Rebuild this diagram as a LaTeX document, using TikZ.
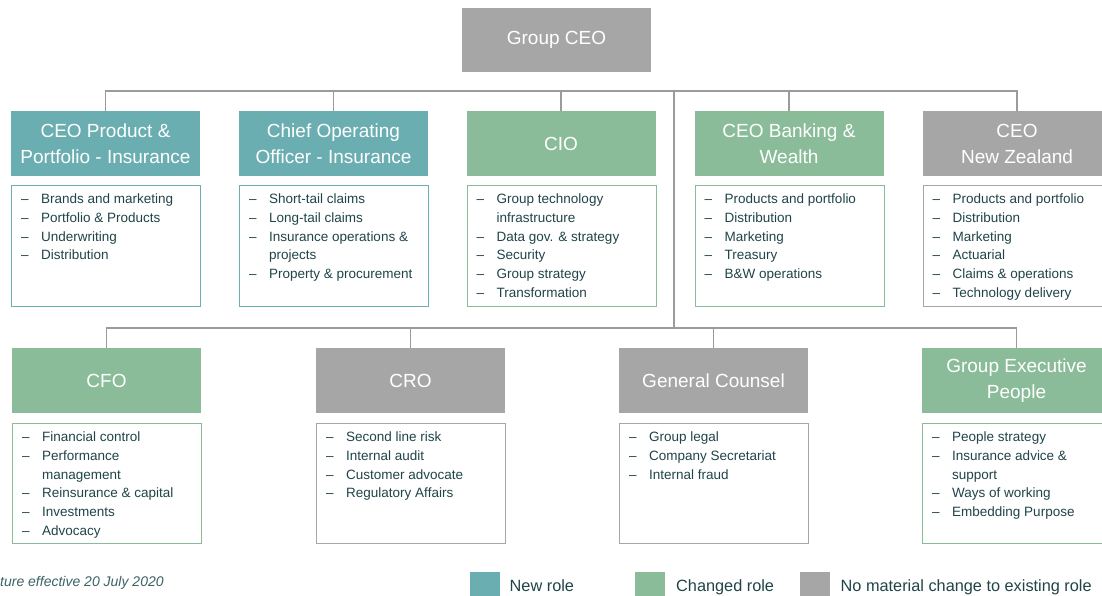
\documentclass[tikz,border=0pt]{standalone}
\usepackage{fontspec}
\setmainfont{Liberation Sans}

\definecolor{newrole}{RGB}{106,174,178}
\definecolor{changedrole}{RGB}{138,188,153}
\definecolor{samerole}{RGB}{166,166,166}
\definecolor{linkgray}{RGB}{155,155,155}
\definecolor{bodytext}{RGB}{32,68,72}
\definecolor{notetext}{RGB}{60,98,102}

% one bulleted responsibility, and a continuation line with hanging indent
\newcommand{\roleitem}[1]{\strut\makebox[20pt][l]{–}#1}
\newcommand{\rolecont}[1]{\strut\hspace*{20pt}#1}

\tikzset{
  hdr/.style={rectangle, minimum width=189pt, minimum height=65pt, inner sep=0pt,
              text=white, align=center, font=\fontsize{19}{26}\selectfont},
  hdrnew/.style={hdr, fill=newrole},
  hdrchg/.style={hdr, fill=changedrole},
  hdrsame/.style={hdr, fill=samerole},
  detbox/.style={rectangle, draw, line width=0.9pt, fill=white, anchor=north west,
                 minimum width=189pt, inner sep=0pt},
  dettop/.style={detbox, minimum height=121pt},
  detbot/.style={detbox, minimum height=120pt},
  duties/.style={anchor=north west, inner sep=0pt, align=left, text=bodytext,
                 font=\fontsize{13.5}{18.7}\selectfont},
  link/.style={draw=linkgray, line width=1.3pt},
  keybox/.style={rectangle, minimum width=30pt, minimum height=30pt, inner sep=0pt},
  keytext/.style={anchor=base west, inner sep=0pt, text=bodytext,
                  font=\fontsize{16.3}{19}\selectfont},
}

\begin{document}
\begin{tikzpicture}[x=1pt,y=-1pt]
\clip (0,0) rectangle (1102,596);
\fill[white] (0,0) rectangle (1102,596);

% ---- top of the structure ----
\node[hdrsame, minimum height=64pt] (ceo) at (556.5,40) {Group CEO};

% ---- first row of direct reports ----
\node[hdrnew]  (prod) at (105.5,143.5) {CEO Product \&\\Portfolio - Insurance};
\node[hdrnew]  (coo)  at (333.5,143.5) {Chief Operating\\Officer - Insurance};
\node[hdrchg]  (cio)  at (561,143.5)   {CIO};
\node[hdrchg]  (bw)   at (789,143.5)   {CEO Banking \&\\Wealth};
\node[hdrsame] (nz)   at (1017,143.5)  {CEO\\New Zealand};

\node[dettop, draw=newrole]     (prodbox) at (11,185)  {};
\node[dettop, draw=newrole]     (coobox)  at (239,185) {};
\node[dettop, draw=changedrole] (ciobox)  at (466.5,185) {};
\node[dettop, draw=changedrole] (bwbox)   at (694.5,185) {};
\node[dettop, draw=samerole]    (nzbox)   at (922.5,185) {};

\node[duties] (prodlist) at (21,190.6) {%
  \roleitem{Brands and marketing}\\
  \roleitem{Portfolio \& Products}\\
  \roleitem{Underwriting}\\
  \roleitem{Distribution}};
\node[duties] (coolist) at (249,190.6) {%
  \roleitem{Short-tail claims}\\
  \roleitem{Long-tail claims}\\
  \roleitem{Insurance operations \&}\\
  \rolecont{projects}\\
  \roleitem{Property \& procurement}};
\node[duties] (ciolist) at (476.5,190.6) {%
  \roleitem{Group technology}\\
  \rolecont{infrastructure}\\
  \roleitem{Data gov. \& strategy}\\
  \roleitem{Security}\\
  \roleitem{Group strategy}\\
  \roleitem{Transformation}};
\node[duties] (bwlist) at (704.5,190.6) {%
  \roleitem{Products and portfolio}\\
  \roleitem{Distribution}\\
  \roleitem{Marketing}\\
  \roleitem{Treasury}\\
  \roleitem{B\&W operations}};
\node[duties] (nzlist) at (932.5,190.6) {%
  \roleitem{Products and portfolio}\\
  \roleitem{Distribution}\\
  \roleitem{Marketing}\\
  \roleitem{Actuarial}\\
  \roleitem{Claims \& operations}\\
  \roleitem{Technology delivery}};

% ---- second row of direct reports ----
\node[hdrchg]  (cfo)    at (106.5,380.5) {CFO};
\node[hdrsame] (cro)    at (410.5,380.5) {CRO};
\node[hdrsame] (gc)     at (713.5,380.5) {General Counsel};
\node[hdrchg]  (people) at (1016.5,380.5) {Group Executive\\People};

\node[detbot, draw=changedrole] (cfobox)    at (12,423)  {};
\node[detbot, draw=samerole]    (crobox)    at (316,423) {};
\node[detbot, draw=samerole]    (gcbox)     at (619,423) {};
\node[detbot, draw=changedrole] (peoplebox) at (922,423) {};

\node[duties] (cfolist) at (22,428.6) {%
  \roleitem{Financial control}\\
  \roleitem{Performance}\\
  \rolecont{management}\\
  \roleitem{Reinsurance \& capital}\\
  \roleitem{Investments}\\
  \roleitem{Advocacy}};
\node[duties] (crolist) at (326,428.6) {%
  \roleitem{Second line risk}\\
  \roleitem{Internal audit}\\
  \roleitem{Customer advocate}\\
  \roleitem{Regulatory Affairs}};
\node[duties] (gclist) at (629,428.6) {%
  \roleitem{Group legal}\\
  \roleitem{Company Secretariat}\\
  \roleitem{Internal fraud}};
\node[duties] (peoplelist) at (932,428.6) {%
  \roleitem{People strategy}\\
  \roleitem{Insurance advice \&}\\
  \rolecont{support}\\
  \roleitem{Ways of working}\\
  \roleitem{Embedding Purpose}};

% ---- reporting lines ----
\coordinate (bustop) at (674,91);
\coordinate (busbot) at (674,328);

\draw[link] (prod.north) -- (prod.north |- bustop) -| (nz.north);
\draw[link] (coo.north) -- (coo.north |- bustop);
\draw[link] (cio.north) -- (cio.north |- bustop);
\draw[link] (bw.north)  -- (bw.north |- bustop);
\draw[link] (bustop) -- (busbot);

\draw[link] (cfo.north) -- (cfo.north |- busbot) -| (people.north);
\draw[link] (cro.north) -- (cro.north |- busbot);
\draw[link] (gc.north)  -- (gc.north |- busbot);

% ---- footnote and key ----
\node[anchor=base west, inner sep=0pt, text=notetext,
      font=\fontsize{14}{16}\selectfont\itshape] (note) at (0,586)
      {ture effective 20 July 2020};

\node[keybox, fill=newrole]     (keynew)  at (484.7,587.3) {};
\node[keybox, fill=changedrole] (keychg)  at (650,587.3)   {};
\node[keybox, fill=samerole]    (keysame) at (815.2,587.3) {};
\node[keytext] (keynewtxt)  at (509.5,591.6) {New role};
\node[keytext] (keychgtxt)  at (676,591.6)   {Changed role};
\node[keytext] (keysametxt) at (840.5,591.6) {No material change to existing role};
\end{tikzpicture}
\end{document}
